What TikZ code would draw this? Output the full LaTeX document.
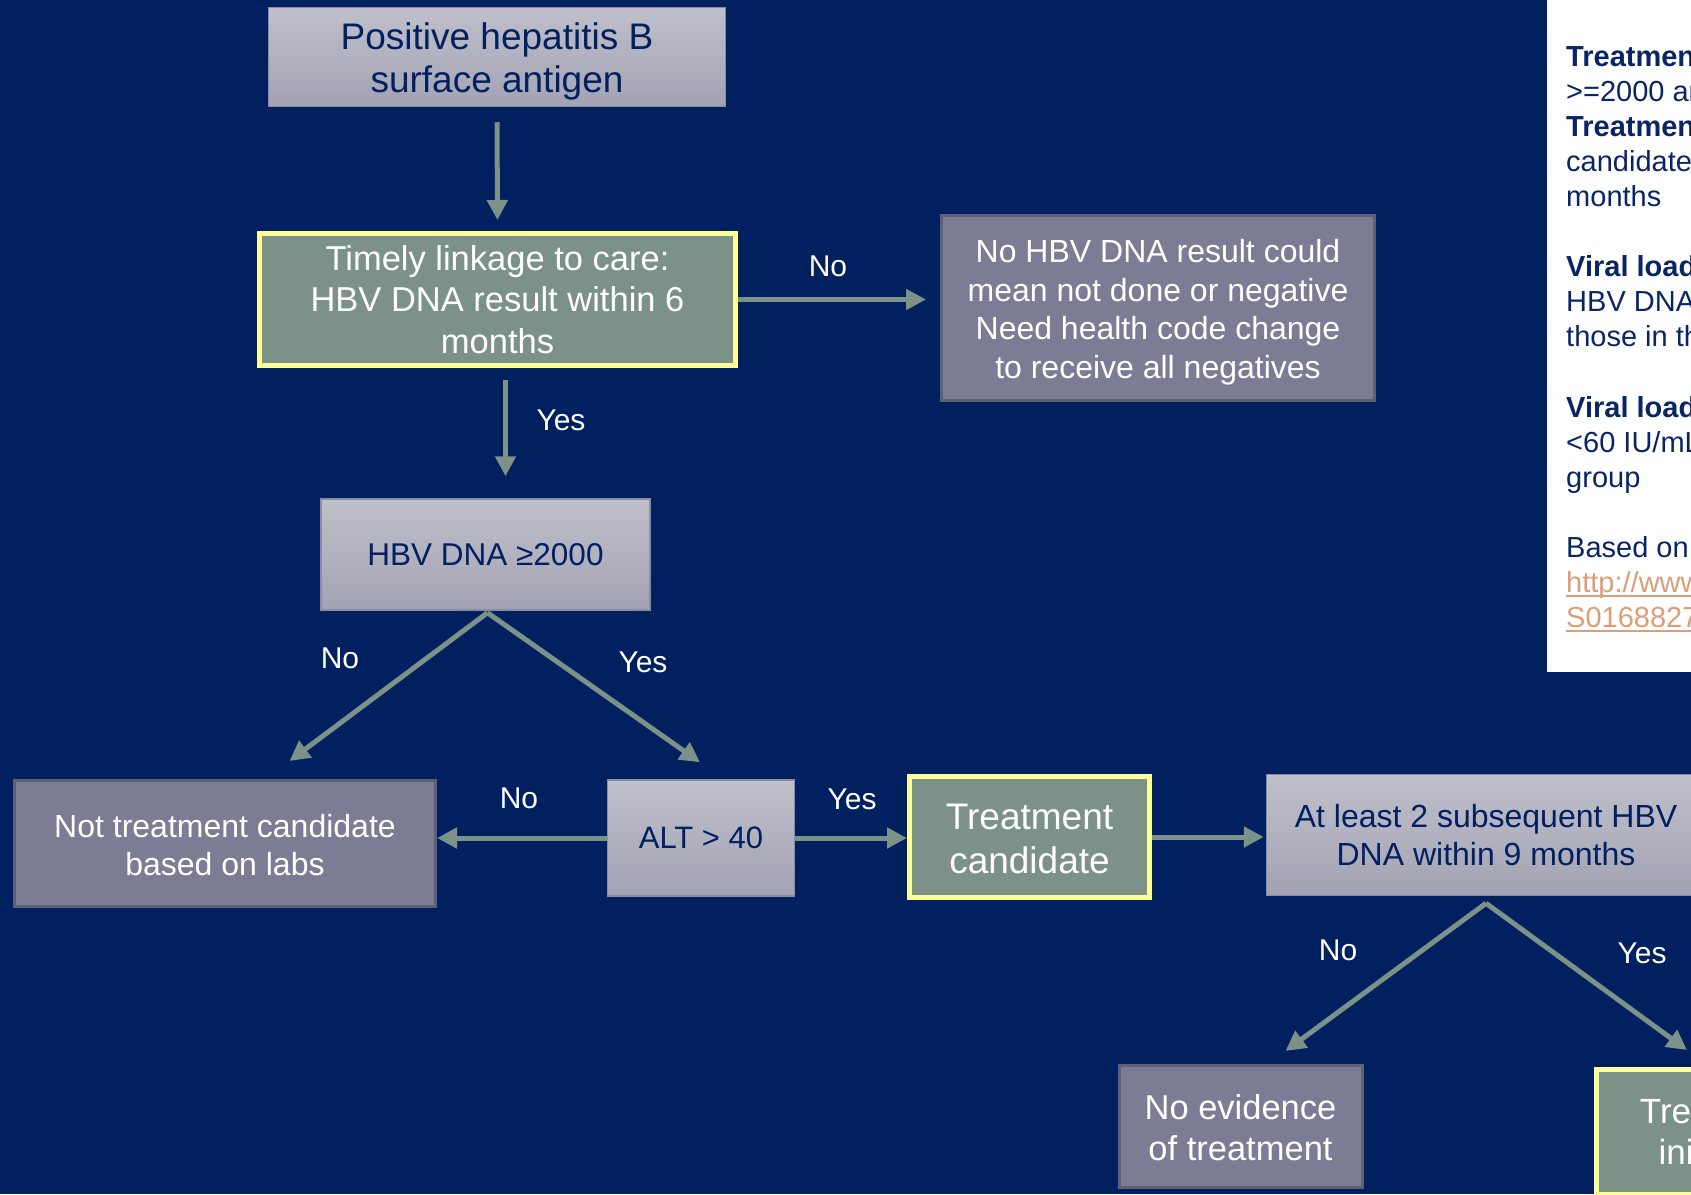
\documentclass[tikz,border=0pt]{standalone}
\usepackage{fontspec}
\setmainfont{Liberation Sans}
\usetikzlibrary{arrows.meta,calc}
\definecolor{bgc}{HTML}{002060}
\definecolor{navytext}{HTML}{002060}
\definecolor{pnavy}{HTML}{0A2566}
\definecolor{lboxt}{HTML}{C0C0CC}
\definecolor{lboxb}{HTML}{A2A2B2}
\definecolor{lboxd}{HTML}{8C8CA0}
\definecolor{dboxf}{HTML}{7C7C94}
\definecolor{dboxd}{HTML}{5F5F75}
\definecolor{grn}{HTML}{7C9288}
\definecolor{yel}{HTML}{FFFF99}
\definecolor{arrc}{HTML}{7C9288}
\definecolor{linkc}{HTML}{DA9E78}
\newcommand\fsz[2]{\fontsize{#1}{#2}\selectfont}
\begin{document}
\begin{tikzpicture}[x=1pt,y=-1pt,
  lbox/.style={draw=lboxd, line width=1.5pt, top color=lboxt, bottom color=lboxb, text=navytext, align=center, inner sep=0pt},
  dbox/.style={draw=dboxd, line width=3pt, fill=dboxf, text=white, align=center, inner sep=0pt},
  gbox/.style={draw=yel, line width=5pt, fill=grn, text=white, align=center, inner sep=0pt},
  arr/.style={draw=arrc, line width=5pt, -{Triangle[length=20pt,width=20pt]}},
  lbl/.style={text=white, inner sep=0pt, font=\fsz{30}{36}},
  ptxt/.style={anchor=base west, inner sep=0pt, text=pnavy, font=\fsz{29}{35}},
]
\useasboundingbox (0,0) rectangle (1691,1194);
\fill[bgc] (0,0) rectangle (1691,1194);
\clip (0,0) rectangle (1691,1194);

% side panel
\fill[white] (1547,0) rectangle (1691,672);
\node[ptxt] (p0) at (1566,66) {\bfseries Treatment};
\node[ptxt] (p1) at (1566,101.1) {>=2000 and};
\node[ptxt] (p2) at (1566,136.2) {\bfseries Treatment};
\node[ptxt] (p3) at (1566,171.3) {candidate};
\node[ptxt] (p4) at (1566,206.4) {months};
\node[ptxt] (p6) at (1566,276.6) {\bfseries Viral load};
\node[ptxt] (p7) at (1566,311.7) {HBV DNA};
\node[ptxt] (p8) at (1566,346.8) {those in the};
\node[ptxt] (p10) at (1566,417) {\bfseries Viral load};
\node[ptxt] (p11) at (1566,452.1) {<60 IU/mL};
\node[ptxt] (p12) at (1566,487.2) {group};
\node[ptxt] (p14) at (1566,557.4) {Based on};
\node[ptxt, text=linkc] (p15) at (1566,592.5) {http://www};
\node[ptxt, text=linkc] (p16) at (1566,627.6) {S0168827};
\draw[linkc, line width=1.8pt] ([yshift=-3.5pt]p15.base west) -- ([yshift=-3.5pt]p15.base east);
\draw[linkc, line width=1.8pt] ([yshift=-3.5pt]p16.base west) -- ([yshift=-3.5pt]p16.base east);

% boxes
\node[lbox, minimum width=457pt, minimum height=99pt, font=\fsz{37}{43}] (pos) at (497,57) {\rule{0pt}{36pt}Positive hepatitis B\\surface antigen};
\node[gbox, minimum width=476pt, minimum height=132pt, font=\fsz{34.5}{41.5}] (link) at (497.5,299.5) {Timely linkage to care:\\HBV DNA result within 6\\months};
\node[dbox, minimum width=433pt, minimum height=185pt, font=\fsz{32}{38.5}] (nohbv) at (1158,308) {\rule{0pt}{32pt}No HBV DNA result could\\mean not done or negative\\Need health code change\\to receive all negatives};
\node[lbox, minimum width=329pt, minimum height=111pt, font=\fsz{31.5}{38}] (dna) at (485.5,554.5) {HBV DNA ≥2000};
\node[dbox, minimum width=421pt, minimum height=126pt, font=\fsz{32}{38}] (nottc) at (225,843.5) {\rule{0pt}{27pt}Not treatment candidate\\based on labs};
\node[lbox, minimum width=187pt, minimum height=116pt, font=\fsz{31}{37}] (alt) at (701,838) {ALT > 40};
\node[gbox, minimum width=240pt, minimum height=121pt, font=\fsz{37}{44}] (tc) at (1029.5,837) {\rule{0pt}{29pt}Treatment\\candidate};
\node[lbox, minimum width=439pt, minimum height=121pt, font=\fsz{32}{38}] (atl) at (1486,835) {At least 2 subsequent HBV\\DNA within 9 months};
\node[dbox, minimum width=243pt, minimum height=122pt, font=\fsz{34.5}{41}] (noev) at (1240.5,1126.5) {\rule{0pt}{28pt}No evidence\\of treatment};
\node[gbox, minimum width=245pt, minimum height=125pt, font=\fsz{35}{41}] (tinit) at (1719,1132) {Treatment\\initiated};

% connectors
\draw[arr, shorten <=15pt, shorten >=11pt] (pos.south) -- (link.north);
\draw[arr, shorten >=14pt] (link.east) -- (link.east -| nohbv.west);
\draw[arr, shorten <=12pt, shorten >=22pt] ([xshift=8pt]link.south) -- ([xshift=8pt]link.south |- dna.north);
\draw[arr] ([xshift=2pt,yshift=-2pt]dna.south) -- ([xshift=64.5pt,yshift=18pt]nottc.north);
\draw[arr] ([xshift=2pt,yshift=-2pt]dna.south) -- ([xshift=-1pt,yshift=17pt]alt.north);
\draw[arr] (alt.west) -- (alt.west -| nottc.east);
\draw[arr] (alt.east) -- (alt.east -| tc.west);
\draw[arr, shorten >=2pt] (tc.east) -- (tc.east -| atl.west);
\draw[arr] ([yshift=-7pt]atl.south) -- ([xshift=45pt,yshift=13pt]noev.north);
\draw[arr] ([yshift=-7pt]atl.south) -- ([xshift=-32pt,yshift=17pt]tinit.north);

% labels
\node[lbl] (l1) at (828,266) {No};
\node[lbl] (l2) at (561,420) {Yes};
\node[lbl] (l3) at (340,658) {No};
\node[lbl] (l4) at (643,662) {Yes};
\node[lbl] (l5) at (519,798) {No};
\node[lbl] (l6) at (852,799) {Yes};
\node[lbl] (l7) at (1338,950) {No};
\node[lbl] (l8) at (1642,953) {Yes};
\end{tikzpicture}
\end{document}
